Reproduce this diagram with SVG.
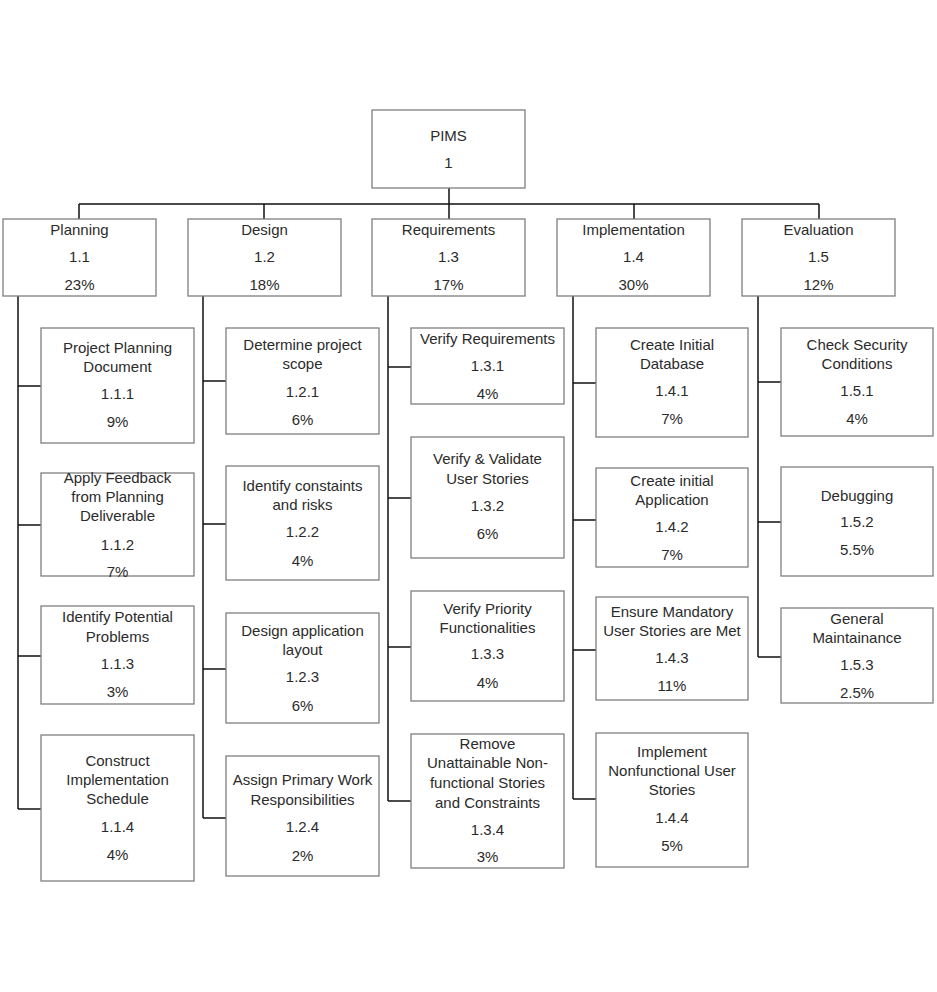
<svg xmlns="http://www.w3.org/2000/svg" width="937" height="992" viewBox="0 0 937 992">
<style>
.box{fill:#fff;stroke:#7f7f7f;stroke-width:1.3}
.conn{fill:none;stroke:#111;stroke-width:1.5}
text{font-family:"Liberation Sans",Arial,sans-serif;font-size:15px;fill:#2b2b2b;text-anchor:middle}
</style>
<rect width="937" height="992" fill="#fff"/>
<g id="connectors" class="conn">
<path d="M449 188V204M79 204H819M79 204V219M264 204V219M449 204V219M634 204V219M819 204V219"/>
<path d="M18 296V809M18 386H41M18 525H41M18 656H41M18 809H41"/>
<path d="M203 296V818M203 381H226M203 524H226M203 669H226M203 818H226"/>
<path d="M388 296V801M388 367H411M388 498H411M388 647H411M388 801H411"/>
<path d="M573 296V799M573 383H596M573 520H596M573 650H596M573 799H596"/>
<path d="M758 296V657M758 382H781M758 522H781M758 657H781"/>
</g>
<g id="n1"><rect class="box" x="372" y="110" width="153" height="78"/><text x="448.5" y="141">PIMS</text><text x="448.5" y="168">1</text></g>
<g id="n1_1"><rect class="box" x="3" y="219" width="153" height="77"/><text x="79.5" y="235">Planning</text><text x="79.5" y="262">1.1</text><text x="79.5" y="290">23%</text></g>
<g id="n1_2"><rect class="box" x="188" y="219" width="153" height="77"/><text x="264.5" y="235">Design</text><text x="264.5" y="262">1.2</text><text x="264.5" y="290">18%</text></g>
<g id="n1_3"><rect class="box" x="372" y="219" width="153" height="77"/><text x="448.5" y="235">Requirements</text><text x="448.5" y="262">1.3</text><text x="448.5" y="290">17%</text></g>
<g id="n1_4"><rect class="box" x="557" y="219" width="153" height="77"/><text x="633.5" y="235">Implementation</text><text x="633.5" y="262">1.4</text><text x="633.5" y="290">30%</text></g>
<g id="n1_5"><rect class="box" x="742" y="219" width="153" height="77"/><text x="818.5" y="235">Evaluation</text><text x="818.5" y="262">1.5</text><text x="818.5" y="290">12%</text></g>

<g id="n1_1_1"><rect class="box" x="41" y="328" width="153" height="115"/><text x="117.5" y="353">Project Planning</text><text x="117.5" y="372">Document</text><text x="117.5" y="399">1.1.1</text><text x="117.5" y="427">9%</text></g>
<g id="n1_1_2"><rect class="box" x="41" y="473" width="153" height="103"/><text x="117.5" y="483">Apply Feedback</text><text x="117.5" y="502">from Planning</text><text x="117.5" y="521">Deliverable</text><text x="117.5" y="550">1.1.2</text><text x="117.5" y="577">7%</text></g>
<g id="n1_1_3"><rect class="box" x="41" y="606" width="153" height="98"/><text x="117.5" y="622">Identify Potential</text><text x="117.5" y="642">Problems</text><text x="117.5" y="669">1.1.3</text><text x="117.5" y="697">3%</text></g>
<g id="n1_1_4"><rect class="box" x="41" y="735" width="153" height="146"/><text x="117.5" y="766">Construct</text><text x="117.5" y="785">Implementation</text><text x="117.5" y="804">Schedule</text><text x="117.5" y="832">1.1.4</text><text x="117.5" y="860">4%</text></g>

<g id="n1_2_1"><rect class="box" x="226" y="328" width="153" height="106"/><text x="302.5" y="350">Determine project</text><text x="302.5" y="369">scope</text><text x="302.5" y="397">1.2.1</text><text x="302.5" y="425">6%</text></g>
<g id="n1_2_2"><rect class="box" x="226" y="466" width="153" height="114"/><text x="302.5" y="491">Identify constaints</text><text x="302.5" y="510">and risks</text><text x="302.5" y="537">1.2.2</text><text x="302.5" y="566">4%</text></g>
<g id="n1_2_3"><rect class="box" x="226" y="613" width="153" height="110"/><text x="302.5" y="636">Design application</text><text x="302.5" y="655">layout</text><text x="302.5" y="682">1.2.3</text><text x="302.5" y="711">6%</text></g>
<g id="n1_2_4"><rect class="box" x="226" y="756" width="153" height="120"/><text x="302.5" y="785">Assign Primary Work</text><text x="302.5" y="805">Responsibilities</text><text x="302.5" y="832">1.2.4</text><text x="302.5" y="861">2%</text></g>

<g id="n1_3_1"><rect class="box" x="411" y="328" width="153" height="76"/><text x="487.5" y="344">Verify Requirements</text><text x="487.5" y="371">1.3.1</text><text x="487.5" y="399">4%</text></g>
<g id="n1_3_2"><rect class="box" x="411" y="437" width="153" height="121"/><text x="487.5" y="464">Verify &amp; Validate</text><text x="487.5" y="484">User Stories</text><text x="487.5" y="511">1.3.2</text><text x="487.5" y="539">6%</text></g>
<g id="n1_3_3"><rect class="box" x="411" y="591" width="153" height="110"/><text x="487.5" y="614">Verify Priority</text><text x="487.5" y="633">Functionalities</text><text x="487.5" y="659">1.3.3</text><text x="487.5" y="688">4%</text></g>
<g id="n1_3_4"><rect class="box" x="411" y="734" width="153" height="134"/><text x="487.5" y="749">Remove</text><text x="487.5" y="768">Unattainable Non-</text><text x="487.5" y="788">functional Stories</text><text x="487.5" y="808">and Constraints</text><text x="487.5" y="835">1.3.4</text><text x="487.5" y="862">3%</text></g>

<g id="n1_4_1"><rect class="box" x="596" y="328" width="152" height="109"/><text x="672" y="350">Create Initial</text><text x="672" y="369">Database</text><text x="672" y="396">1.4.1</text><text x="672" y="424">7%</text></g>
<g id="n1_4_2"><rect class="box" x="596" y="468" width="152" height="99"/><text x="672" y="486">Create initial</text><text x="672" y="505">Application</text><text x="672" y="532">1.4.2</text><text x="672" y="560">7%</text></g>
<g id="n1_4_3"><rect class="box" x="596" y="597" width="152" height="103"/><text x="672" y="617">Ensure Mandatory</text><text x="672" y="636">User Stories are Met</text><text x="672" y="663">1.4.3</text><text x="672" y="691">11%</text></g>
<g id="n1_4_4"><rect class="box" x="596" y="733" width="152" height="134"/><text x="672" y="757">Implement</text><text x="672" y="776">Nonfunctional User</text><text x="672" y="795">Stories</text><text x="672" y="823">1.4.4</text><text x="672" y="851">5%</text></g>

<g id="n1_5_1"><rect class="box" x="781" y="328" width="152" height="108"/><text x="857" y="350">Check Security</text><text x="857" y="369">Conditions</text><text x="857" y="396">1.5.1</text><text x="857" y="424">4%</text></g>
<g id="n1_5_2"><rect class="box" x="781" y="467" width="152" height="109"/><text x="857" y="501">Debugging</text><text x="857" y="527">1.5.2</text><text x="857" y="555">5.5%</text></g>
<g id="n1_5_3"><rect class="box" x="781" y="608" width="152" height="95"/><text x="857" y="624">General</text><text x="857" y="643">Maintainance</text><text x="857" y="670">1.5.3</text><text x="857" y="698">2.5%</text></g>
</svg>
